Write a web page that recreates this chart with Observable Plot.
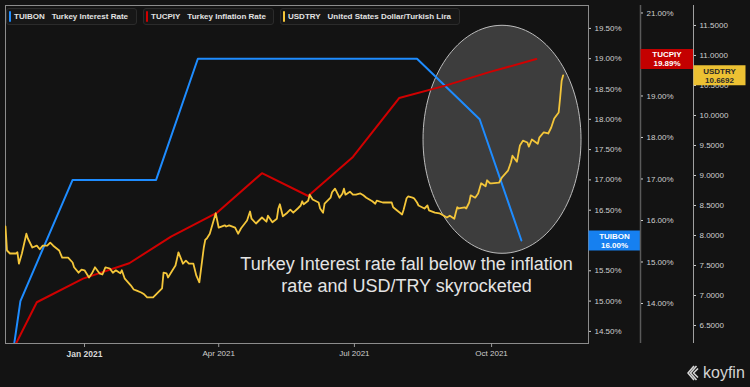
<!DOCTYPE html>
<html><head><meta charset="utf-8">
<script src="https://cdn.jsdelivr.net/npm/d3@7"></script>
<script src="https://cdn.jsdelivr.net/npm/@observablehq/plot@0.6"></script>
<style>
html,body{margin:0;padding:0;background:#131313;}
#chart{position:relative;width:750px;height:387px;background:#131313;overflow:hidden;font-family:"Liberation Sans",Arial,sans-serif;}
#chart svg.layer{position:absolute;left:0;top:0;}
.leg{position:absolute;top:8px;height:17px;box-sizing:border-box;border:1px solid #2b2b2b;border-radius:3px;background:#171717;color:#e2e2e2;font-size:8px;font-weight:bold;line-height:15px;white-space:nowrap;padding-left:7px;}
.leg .bar{position:absolute;left:2px;top:2px;width:2px;height:11px;border-radius:1px;}
.leg .name{margin-left:7px;}
#logo{position:absolute;left:687px;top:364px;color:#d4d4d4;font-size:16px;font-family:"Liberation Sans",Arial,sans-serif;display:flex;align-items:center;}
#logo svg{margin-right:2px;}
</style></head>
<body>
<div id="chart">
  <div class="leg" style="left:6px;width:131px"><span class="bar" style="background:#1e8cff"></span>TUIBON<span class="name">Turkey Interest Rate</span></div>
  <div class="leg" style="left:143px;width:131px"><span class="bar" style="background:#d00000"></span>TUCPIY<span class="name">Turkey Inflation Rate</span></div>
  <div class="leg" style="left:280px;width:180px"><span class="bar" style="background:#f4c63a"></span>USDTRY<span class="name">United States Dollar/Turkish Lira</span></div>
  <div id="logo"><svg width="14" height="16" viewBox="0 0 14 16"><path d="M7 1 L1 8 L7 15 M11 3.5 L6.5 8 L11 12.5 M9.5 1 L3.5 8 L9.5 15" fill="none" stroke="#d4d4d4" stroke-width="1.6" stroke-linejoin="round"/></svg>koyfin</div>
</div>
<script>
// ---- data ----
const tuibonDates = ["2020-10-22","2020-11-19","2020-12-24","2021-01-21","2021-02-18","2021-03-18","2021-04-15","2021-05-06","2021-06-17","2021-07-14","2021-08-12","2021-09-23","2021-10-21"];
const tuibonValues = [10.25,15,17,17,17,19,19,19,19,19,19,18,16];

const tucpiyDates = ["2020-10-31","2020-11-30","2020-12-31","2021-01-31","2021-02-28","2021-03-31","2021-04-30","2021-05-31","2021-06-30","2021-07-31","2021-08-31","2021-09-30","2021-10-31"];
const tucpiyValues = [11.89,14.03,14.60,14.97,15.61,16.19,17.14,16.59,17.53,18.95,19.25,19.58,19.89];

const usdDates = ["2020-11-09","2020-11-10","2020-11-12","2020-11-16","2020-11-17","2020-11-18","2020-11-20","2020-11-23","2020-11-24","2020-11-27","2020-11-30","2020-12-02","2020-12-04","2020-12-07","2020-12-09","2020-12-11","2020-12-15","2020-12-17","2020-12-18","2020-12-21","2020-12-24","2020-12-25","2020-12-28","2020-12-30","2021-01-01","2021-01-04","2021-01-06","2021-01-08","2021-01-11","2021-01-13","2021-01-15","2021-01-18","2021-01-20","2021-01-22","2021-01-25","2021-01-26","2021-01-28","2021-02-01","2021-02-03","2021-02-05","2021-02-08","2021-02-10","2021-02-12","2021-02-15","2021-02-16","2021-02-18","2021-02-22","2021-02-23","2021-02-25","2021-02-26","2021-03-01","2021-03-03","2021-03-05","2021-03-08","2021-03-10","2021-03-12","2021-03-15","2021-03-17","2021-03-19","2021-03-22","2021-03-23","2021-03-24","2021-03-26","2021-03-30","2021-04-01","2021-04-05","2021-04-06","2021-04-08","2021-04-12","2021-04-14","2021-04-16","2021-04-20","2021-04-22","2021-04-23","2021-04-26","2021-04-28","2021-04-30","2021-05-03","2021-05-04","2021-05-07","2021-05-10","2021-05-11","2021-05-12","2021-05-14","2021-05-17","2021-05-19","2021-05-21","2021-05-24","2021-05-26","2021-05-27","2021-05-28","2021-05-31","2021-06-01","2021-06-03","2021-06-07","2021-06-08","2021-06-10","2021-06-11","2021-06-15","2021-06-16","2021-06-18","2021-06-21","2021-06-23","2021-06-24","2021-06-25","2021-06-28","2021-06-30","2021-07-02","2021-07-05","2021-07-07","2021-07-09","2021-07-13","2021-07-15","2021-07-16","2021-07-20","2021-07-26","2021-07-27","2021-07-29","2021-08-02","2021-08-03","2021-08-05","2021-08-06","2021-08-09","2021-08-10","2021-08-12","2021-08-13","2021-08-17","2021-08-19","2021-08-20","2021-08-24","2021-08-27","2021-08-30","2021-09-01","2021-09-03","2021-09-06","2021-09-07","2021-09-08","2021-09-09","2021-09-13","2021-09-14","2021-09-16","2021-09-17","2021-09-20","2021-09-22","2021-09-24","2021-09-27","2021-09-28","2021-09-30","2021-10-01","2021-10-06","2021-10-08","2021-10-12","2021-10-14","2021-10-15","2021-10-18","2021-10-20","2021-10-22","2021-10-25","2021-10-26","2021-10-28","2021-11-01","2021-11-02","2021-11-05","2021-11-08","2021-11-10","2021-11-12","2021-11-15","2021-11-16","2021-11-17","2021-11-18"];
const usdValues = [8.15,7.75,7.70,7.70,7.72,7.53,7.70,8.03,7.95,7.80,7.83,7.77,7.83,7.83,7.88,7.83,7.75,7.63,7.63,7.63,7.55,7.47,7.38,7.43,7.42,7.30,7.37,7.47,7.37,7.35,7.47,7.45,7.38,7.42,7.37,7.42,7.28,7.17,7.10,7.08,7.05,7.02,6.97,6.97,6.97,7.02,7.12,7.38,7.37,7.30,7.42,7.50,7.72,7.53,7.58,7.53,7.53,7.33,7.22,7.80,7.93,7.95,8.03,8.37,8.13,8.17,8.15,8.17,8.13,8.03,8.12,8.25,8.40,8.28,8.20,8.25,8.30,8.23,8.33,8.22,8.28,8.45,8.52,8.32,8.38,8.43,8.38,8.45,8.50,8.57,8.52,8.58,8.68,8.60,8.55,8.45,8.38,8.53,8.63,8.72,8.78,8.63,8.70,8.78,8.68,8.73,8.68,8.68,8.70,8.67,8.63,8.57,8.53,8.58,8.55,8.55,8.47,8.43,8.35,8.43,8.62,8.65,8.63,8.62,8.55,8.50,8.45,8.50,8.42,8.38,8.37,8.33,8.30,8.33,8.28,8.38,8.47,8.45,8.47,8.45,8.55,8.67,8.63,8.70,8.87,8.82,8.92,8.87,8.87,8.88,8.97,9.08,9.22,9.33,9.23,9.50,9.58,9.55,9.48,9.60,9.53,9.63,9.72,9.70,9.80,9.95,10.05,10.30,10.58,10.6692];

const xTickDates = ["2021-01-01","2021-04-01","2021-07-01","2021-10-01"];
const xTickLabels = ["Jan 2021","Apr 2021","Jul 2021","Oct 2021"];
// tick labels left visible (the 16.00% and 20.00% labels sit fully behind the value boxes)
const tuibonTicks = [14.5,15,15.5,16.5,17,17.5,18,18.5,19,19.5];
const tucpiyTicks = [14,15,16,17,18,19,21];
const usdTicks = [6.5,7,7.5,8,8.5,9,9.5,10,10.5,11,11.5];

const annotationText = ["Turkey Interest rate fall below the inflation\nrate and USD/TRY skyrocketed"];
const annotationDate = ["2021-08-05"];
const annotationUsd = [7.36];
const highlightDate = ["2021-10-08"];
const highlightRate = [17.67];

// ---- build ----
const P = d => new Date(d + "T00:00:00Z");
const tuibon = tuibonDates.map((d,i)=>({date:P(d), value:tuibonValues[i]}));
const tucpiy = tucpiyDates.map((d,i)=>({date:P(d), value:tucpiyValues[i]}));
const usd = usdDates.map((d,i)=>({date:P(d), value:usdValues[i]}));
const xDomain = [P("2020-11-09"), P("2021-12-05")];
const xEnd = xDomain[1];
const labelMap = new Map(xTickDates.map((d,i)=>[+P(d), xTickLabels[i]]));

const boxSymbol = (w,h) => ({draw(ctx){ ctx.rect(-w/2,-h/2,w,h); }});
const ellipseSymbol = (rx,ry) => ({draw(ctx){
  const k = 0.5523;
  ctx.moveTo(rx,0);
  ctx.bezierCurveTo(rx, ry*k, rx*k, ry, 0, ry);
  ctx.bezierCurveTo(-rx*k, ry, -rx, ry*k, -rx, 0);
  ctx.bezierCurveTo(-rx, -ry*k, -rx*k, -ry, 0, -ry);
  ctx.bezierCurveTo(rx*k, -ry, rx, -ry*k, rx, 0);
  ctx.closePath();
}});

const common = {
  width:750, height:387, marginLeft:5, marginRight:162, marginTop:5, marginBottom:44,
  x:{type:"utc", domain:xDomain, axis:null},
  style:{background:"transparent", color:"#cfcfcf", fontFamily:"Liberation Sans, Arial, sans-serif", fontSize:"8px", overflow:"visible"}
};

const lastT = tuibon[tuibon.length-1];
const lastC = tucpiy[tucpiy.length-1];
const lastU = usd[usd.length-1];

const p1 = Plot.plot({
  ...common,
  y:{domain:[14.30,19.878], axis:null},
  marks:[
    Plot.frame({stroke:"#8c8c8c"}),
    Plot.dot(highlightDate.map((d,i)=>({date:P(d), value:highlightRate[i]})), {x:"date", y:"value", symbol:ellipseSymbol(79,114), fill:"#ffffff", fillOpacity:0.18, stroke:"#bdbdbd", strokeWidth:1}),
    Plot.axisX([P(xTickDates[0])], {tickSize:4, tickPadding:3, tickFormat:d=>labelMap.get(+d), fontWeight:"bold", stroke:"#9a9a9a", fill:"#d8d8d8", fontSize:8.5, label:null}),
    Plot.axisX(xTickDates.slice(1).map(P), {tickSize:4, tickPadding:3, tickFormat:d=>labelMap.get(+d), stroke:"#9a9a9a", fill:"#cfcfcf", fontSize:8, label:null}),
    Plot.line(tuibon, {x:"date", y:"value", stroke:"#1e8cff", strokeWidth:2, clip:true}),
    Plot.axisY(tuibonTicks, {anchor:"right", tickSize:2, tickPadding:4, tickFormat:d=>d.toFixed(2)+"%", stroke:"#cfcfcf", label:null}),
    Plot.dot([lastT], {y:"value", frameAnchor:"right", dx:26, symbol:boxSymbol(52,20), fill:"#1680f0", stroke:"none"}),
    Plot.text([lastT], {y:"value", frameAnchor:"right", dx:26, text:d=>"TUIBON\n"+d.value.toFixed(2)+"%", textAnchor:"middle", fill:"#ffffff", fontWeight:"bold", fontSize:8, lineHeight:1.1})
  ]
});

const p2 = Plot.plot({
  ...common,
  y:{domain:[13.036,21.18], axis:null},
  marks:[
    Plot.ruleX([xEnd], {dx:52, stroke:"#5a5a5a", strokeWidth:1.5}),
    Plot.line(tucpiy, {x:"date", y:"value", stroke:"#d00000", strokeWidth:2, clip:true}),
    Plot.axisY(tucpiyTicks, {anchor:"right", dx:52, tickSize:2, tickPadding:4, tickFormat:d=>d.toFixed(2)+"%", stroke:"#cfcfcf", label:null}),
    Plot.dot([lastC], {y:"value", frameAnchor:"right", dx:78.5, symbol:boxSymbol(53,20), fill:"#c40000", stroke:"none"}),
    Plot.text([lastC], {y:"value", frameAnchor:"right", dx:78.5, text:d=>"TUCPIY\n"+d.value.toFixed(2)+"%", textAnchor:"middle", fill:"#ffffff", fontWeight:"bold", fontSize:8, lineHeight:1.1})
  ]
});

const p3 = Plot.plot({
  ...common,
  y:{domain:[6.2,11.833], axis:null},
  marks:[
    Plot.ruleX([xEnd], {dx:105, stroke:"#a0a0a0", strokeWidth:1}),
    Plot.line(usd, {x:"date", y:"value", stroke:"#f4c63a", strokeWidth:1.8, clip:true}),
    Plot.axisY(usdTicks, {anchor:"right", dx:105, tickSize:2, tickPadding:4, tickFormat:d=>d.toFixed(4), stroke:"#cfcfcf", label:null}),
    Plot.dot([lastU], {y:"value", frameAnchor:"right", dx:131, symbol:boxSymbol(52,20), fill:"#ecc133", stroke:"none"}),
    Plot.text([lastU], {y:"value", frameAnchor:"right", dx:131, text:d=>"USDTRY\n"+d.value.toFixed(4), textAnchor:"middle", fill:"#2a2a2a", fontWeight:"bold", fontSize:8, lineHeight:1.1}),
    Plot.text(annotationText.map((t,i)=>({t, date:P(annotationDate[i]), value:annotationUsd[i]})), {x:"date", y:"value", text:"t", textAnchor:"middle", lineAnchor:"middle", fill:"#e4e4e4", fontSize:18, lineHeight:1.22})
  ]
});

const chart = document.getElementById("chart");
for (const p of [p1,p2,p3]) {
  p.classList.add("layer");
  p.style.position = "absolute";
  p.style.left = "0px";
  p.style.top = "0px";
  chart.insertBefore(p, chart.querySelector(".leg"));
}
</script>
</body></html>
